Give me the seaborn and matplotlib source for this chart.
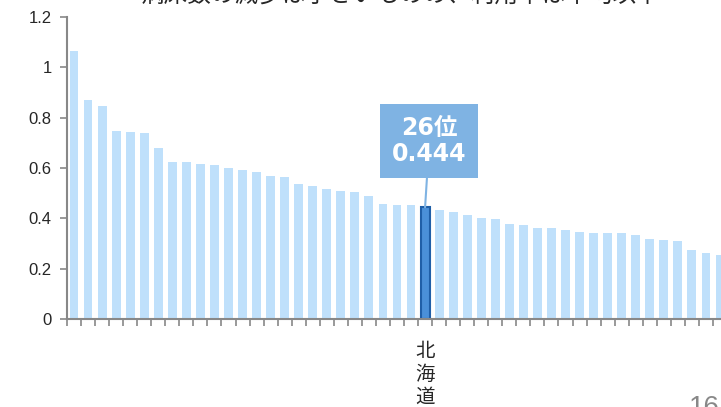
import matplotlib
matplotlib.use("Agg")
import matplotlib.pyplot as plt
import seaborn as sns
import pandas as pd

# values sorted by rank (1..47), Hokkaido is 26th
values = [1.065, 0.869, 0.846, 0.747, 0.743, 0.739, 0.678, 0.623, 0.622, 0.615,
          0.610, 0.600, 0.592, 0.583, 0.567, 0.563, 0.535, 0.529, 0.515, 0.509,
          0.505, 0.488, 0.455, 0.454, 0.453, 0.444, 0.432, 0.424, 0.412, 0.403,
          0.397, 0.376, 0.372, 0.362, 0.361, 0.354, 0.345, 0.343, 0.342, 0.341,
          0.334, 0.319, 0.314, 0.310, 0.273, 0.263, 0.255]
ranks = list(range(1, 48))
highlight_rank = 26
highlight_label = "北\n海\n道"
yticks = [0, 0.2, 0.4, 0.6, 0.8, 1, 1.2]
ytick_labels = ["0", "0.2", "0.4", "0.6", "0.8", "1", "1.2"]
title = "病床数の減少は小さいものの、利用率は平均以下"

light = "#bfe0fb"
dark = "#4a90d9"

df = pd.DataFrame({"rank": ranks, "value": values})
palette = [dark if r == highlight_rank else light for r in ranks]

sns.set_style("white")
plt.rcParams["font.family"] = ["Liberation Sans", "Noto Sans CJK JP"]

fig = plt.figure(figsize=(7.21, 4.07), dpi=100)
ax = fig.add_axes([67 / 721, 88 / 407, 660 / 721, 302 / 407])

sns.barplot(data=df, x="rank", y="value", hue="rank", palette=palette,
            legend=False, width=0.63, ax=ax, saturation=1)

hi = highlight_rank - 1
for i, p in enumerate(ax.patches):
    if i == hi:
        p.set_edgecolor("#1f5fa8")
        p.set_linewidth(1.5)
    else:
        p.set_edgecolor("none")

ax.set_xlim(-0.5, len(values) - 0.5)
ax.set_ylim(0, 1.2)
ax.set_yticks(yticks)
ax.set_yticklabels(ytick_labels, fontsize=12)
ax.set_xticks([hi])
ax.set_xticklabels([highlight_label], fontsize=14, family="Noto Sans CJK JP",
                   linespacing=1.1)
ax.set_xticks([x - 0.5 for x in range(len(values) + 1)], minor=True)
ax.tick_params(axis="x", which="major", bottom=True, length=0, pad=16)
ax.tick_params(axis="x", which="minor", bottom=True, length=5, width=1.2,
               color="#888888", direction="out")
ax.tick_params(axis="y", left=True, length=5, width=1.2, color="#888888",
               direction="out", pad=6)
ax.set_xlabel("")
ax.set_ylabel("")
for s in ["top", "right"]:
    ax.spines[s].set_visible(False)
for s in ["left", "bottom"]:
    ax.spines[s].set_color("#888888")
    ax.spines[s].set_linewidth(1.5)

# callout for Hokkaido
ax.annotate(f"{highlight_rank}位\n{values[hi]:.3f}", xy=(hi, values[hi]),
            xytext=(hi + 0.3, 0.707), ha="center", va="center",
            fontsize=17, fontweight="bold", color="white",
            family=["DejaVu Sans", "Noto Sans CJK JP"], linespacing=1.15,
            bbox=dict(boxstyle="square,pad=0.5", fc="#7fb3e3", ec="none"),
            arrowprops=dict(arrowstyle="-", color="#7fb3e3", lw=1.5,
                            shrinkA=0, shrinkB=0))

fig.text(0.555, 1 - 3 / 407, title, ha="center", va="baseline", fontsize=17,
         family="Noto Sans CJK JP")
fig.text(0.955, 1 - 395 / 407, "16", ha="left", va="top", fontsize=20, color="#888888")

fig.savefig("out.png", dpi=100)
